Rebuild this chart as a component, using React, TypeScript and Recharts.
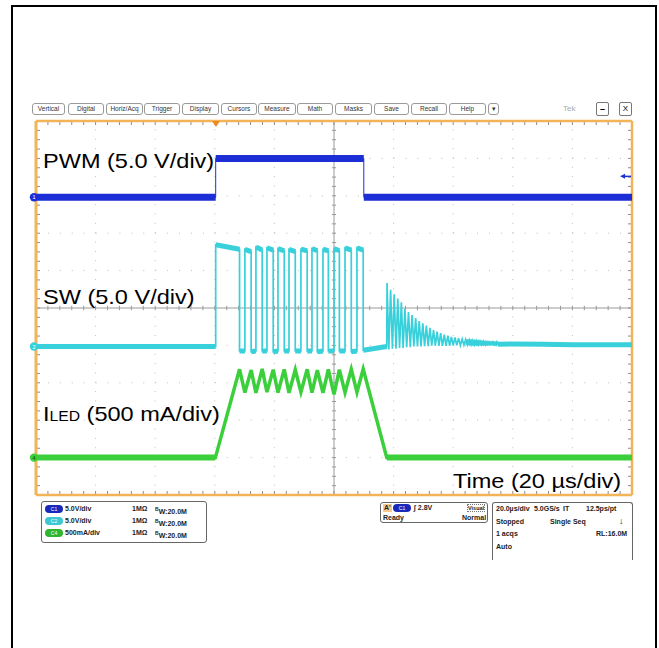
import React from "react";
import { ComposedChart, Line, XAxis, YAxis, ReferenceLine, ReferenceDot } from "recharts";

const ORANGE = "#f2b457";
const BLUE = "#1c2fd6";
const CYAN = "#38d0da";
const GREEN = "#3ccf3c";
const FONT = '"Liberation Sans", Arial, sans-serif';

// horizontal: 20 us/div, 10 div, trigger at 30 %
const T_DOMAIN: [number, number] = [-60, 140];
const T_MAJOR = [-40, -20, 0, 20, 60, 80, 100, 120];
const T_MINOR = Array.from({ length: 51 }, (_, i) => -60 + i * 4);
// vertical: 10 div
const DIV_MAJOR = [-4, -3, -2, -1, 1, 2, 3, 4];
const DIV_MINOR = Array.from({ length: 41 }, (_, i) => -5 + i * 0.25);

// channel scale (units/div) and ground position (div from centre)
const PWM_SCALE = 5, PWM_OFFSET = 2.96;
const SW_SCALE = 5, SW_OFFSET = -1.03;
const ILED_SCALE = 500, ILED_OFFSET = -4.0;
const TRIG_LEVEL = 2.8;

// [time us, volts]
const PWM: [number, number][] = [
  [-60, 0], [0.3, 0], [0.3, 5.2], [50, 5.2], [50, 0], [140, 0],
];

// [time us, volts]
const SW: [number, number][] = [
  [-60, 0], [0.3, 0], [0.3, 13.6], [8.3, 13.0], [8.3, -0.6],
  [10.1, -0.6], [10.1, 13.0], [12.2, 12.7], [12.2, -0.7],
  [13.8, -0.6], [13.8, 13.3], [15.9, 12.9], [15.9, -0.6],
  [17.5, -0.6], [17.5, 13.2], [19.6, 12.9], [19.6, -0.7],
  [21.2, -0.6], [21.2, 13.1], [23.3, 12.8], [23.3, -0.6],
  [24.9, -0.6], [24.9, 13.0], [27.0, 12.7], [27.0, -0.6],
  [28.9, -0.6], [28.9, 13.0], [31.0, 12.8], [31.0, -0.6],
  [32.6, -0.6], [32.6, 13.1], [34.4, 12.8], [34.4, -0.7],
  [36.3, -0.6], [36.3, 13.0], [38.1, 12.8], [38.1, -0.6],
  [40.0, -0.6], [40.0, 13.1], [41.8, 12.8], [41.8, -0.6],
  [43.7, -0.6], [43.7, 13.2], [45.8, 12.9], [45.8, -0.7],
  [47.7, -0.6], [47.7, 13.2], [49.8, 12.9], [49.8, -0.5],
  [57.7, 0.0],
  // ringing after turn-off
  [57.8, 8.5], [58.4, -0.4], [59.0, 7.6], [59.6, -0.3], [60.2, 7.0], [60.8, -0.3],
  [61.4, 6.4], [62.0, -0.2], [62.6, 5.9], [63.2, -0.2], [63.8, 5.0], [64.4, -0.1],
  [65.0, 4.6], [65.6, -0.1], [66.2, 4.2], [66.8, 0.0], [67.4, 3.8], [68.0, 0.0],
  [68.6, 3.4], [69.2, 0.0], [69.8, 3.1], [70.4, 0.05], [71.0, 2.8], [71.6, 0.05],
  [72.2, 2.5], [72.8, 0.1], [73.4, 2.2], [74.0, 0.1], [74.6, 2.0], [75.2, 0.1],
  [75.8, 1.8], [76.4, 0.1], [77.0, 1.6], [77.6, 0.1], [78.2, 1.45], [78.8, 0.1],
  [79.4, 1.3], [80.0, 0.15], [80.6, 1.2], [81.2, 0.15], [81.8, 1.1], [82.4, 0.15],
  [83.0, 1.0], [83.6, 0.2], [84.2, 0.95], [84.8, 0.2], [85.4, 0.9], [86.0, 0.2],
  [86.6, 0.85], [87.2, 0.2], [87.8, 0.8], [88.4, 0.2], [89.0, 0.75], [89.6, 0.2],
  [90.2, 0.7], [90.8, 0.2], [91.4, 0.65], [92.0, 0.25], [92.6, 0.6], [93.2, 0.25],
  [94.0, 0.55], [95.0, 0.3], [100, 0.35], [110, 0.3], [120, 0.25], [140, 0.25],
];

// [time us, mA]
const ILED: [number, number][] = [
  [-60, 0], [0.2, 0], [8.3, 1180], [10.1, 870], [12.2, 1170], [13.8, 865],
  [15.9, 1185], [17.5, 875], [19.6, 1175], [21.2, 870], [23.3, 1180], [24.9, 865],
  [27.0, 1175], [28.9, 875], [31.0, 1180], [32.6, 870], [34.4, 1170], [36.3, 865],
  [38.1, 1180], [40.0, 845], [41.8, 1175], [43.7, 870], [45.8, 1180], [47.7, 875],
  [49.8, 1185], [57.7, 0], [140, 0],
];

const MENU = ["Vertical", "Digital", "Horiz/Acq", "Trigger", "Display", "Cursors",
  "Measure", "Math", "Masks", "Save", "Recall", "Help", "▾"];
const MENU_X: [number, number][] = [[32, 65], [68, 104], [106, 143], [144, 180], [182, 219],
  [221, 257], [258, 296], [297, 333], [335, 372], [374, 409], [411, 447], [449, 486], [488, 499]];

const CHANNELS = [
  { tag: "C1", color: "#1a2ab8", scale: "5.0V/div" },
  { tag: "C2", color: "#3cc8d2", scale: "5.0V/div" },
  { tag: "C4", color: "#2fb52f", scale: "500mA/div" },
];

const toPts = (arr: [number, number][]) => arr.map(([t, v]) => ({ t, v }));

// flat parts of a trace get the thick noise band, edges stay thin
function band(arr: [number, number][], tol: number) {
  const out: { t: number; v: number | null }[] = [];
  for (let i = 1; i < arr.length; i++) {
    const [t0, v0] = arr[i - 1];
    const [t1, v1] = arr[i];
    if (t1 > t0 && Math.abs(v1 - v0) <= tol) {
      out.push({ t: t0, v: v0 }, { t: t1, v: v1 }, { t: t1, v: null });
    }
  }
  return out;
}

const dom = (scale: number, offset: number): [number, number] =>
  [(-5 - offset) * scale, (5 - offset) * scale];

const chMarker = (color: string, txt: string, txtColor: string) => (p: any) => (
  <g>
    <circle cx={p.cx - 2} cy={p.cy} r={4.2} fill={color} />
    <text x={p.cx - 2} y={p.cy + 2} fontSize={5.5} fontFamily={FONT} textAnchor="middle" fill={txtColor}>{txt}</text>
  </g>
);

const labelStyle: React.CSSProperties = {
  position: "absolute", fontFamily: FONT, fontSize: 21, lineHeight: "21px",
  whiteSpace: "nowrap", transform: "scaleX(1.12)", transformOrigin: "0 0", color: "#000",
};

const small: React.CSSProperties = {
  position: "absolute", fontFamily: FONT, fontSize: 7, fontWeight: "bold",
  lineHeight: "8px", whiteSpace: "nowrap", color: "#222",
};

function Pill({ x, y, color, tag }: { x: number; y: number; color: string; tag: string }) {
  return (
    <div style={{ position: "absolute", left: x, top: y, width: 18, height: 8, borderRadius: 4,
      background: color, color: "#fff", fontFamily: FONT, fontSize: 5, lineHeight: "8px",
      textAlign: "center" }}>{tag}</div>
  );
}

const TICK = "#8a8a8a";
const TX = 1.34; // 4 px in us
const TY = 0.107; // 4 px in div

export default function App() {
  return (
    <div style={{ position: "fixed", left: 0, top: 0, width: 659, height: 648, background: "#fff", overflow: "hidden" }}>
      <div style={{ position: "absolute", left: 11, top: 5, width: 642, height: 700, border: "2.5px solid #000" }} />

      {/* menu bar */}
      {MENU.map((m, i) => (
        <div key={m} style={{ position: "absolute", left: MENU_X[i][0], top: 103,
          width: MENU_X[i][1] - MENU_X[i][0], height: 12, border: "1px solid #9a9a9a",
          borderRadius: 3, boxSizing: "border-box", fontFamily: FONT, fontSize: 6.5,
          lineHeight: "10px", textAlign: "center", color: "#333", background: "#fff" }}>{m}</div>
      ))}
      <div style={{ ...small, left: 563, top: 105, fontWeight: "normal", fontSize: 8, color: "#aaa" }}>Tek</div>
      <div style={{ position: "absolute", left: 596, top: 102, width: 13, height: 14, border: "1px solid #777",
        borderRadius: 2, boxSizing: "border-box", fontFamily: FONT, fontSize: 9, fontWeight: "bold",
        textAlign: "center", lineHeight: "12px" }}>–</div>
      <div style={{ position: "absolute", left: 619, top: 102, width: 13, height: 14, border: "1px solid #777",
        borderRadius: 2, boxSizing: "border-box", fontFamily: FONT, fontSize: 8,
        textAlign: "center", lineHeight: "12px" }}>X</div>

      <div style={{ position: "absolute", left: 0, top: 0 }}>
        <ComposedChart width={659} height={648} margin={{ top: 121, right: 27, bottom: 153, left: 36 }}>
          <XAxis xAxisId="main" dataKey="t" type="number" domain={T_DOMAIN} allowDataOverflow hide />
          <YAxis yAxisId="div" type="number" domain={[-5, 5]} allowDataOverflow hide />
          <YAxis yAxisId="pwm" type="number" domain={dom(PWM_SCALE, PWM_OFFSET)} allowDataOverflow hide />
          <YAxis yAxisId="sw" type="number" domain={dom(SW_SCALE, SW_OFFSET)} allowDataOverflow hide />
          <YAxis yAxisId="iled" type="number" domain={dom(ILED_SCALE, ILED_OFFSET)} allowDataOverflow hide />

          {T_MAJOR.map((t) => (
            <ReferenceLine key={"gx" + t} xAxisId="main" yAxisId="div" x={t} stroke="#bdbdbd" strokeDasharray="1 8.35" />
          ))}
          {DIV_MAJOR.map((d) => (
            <ReferenceLine key={"gy" + d} xAxisId="main" yAxisId="div" y={d} stroke="#bdbdbd" strokeDasharray="1 10.92" />
          ))}
          <ReferenceLine xAxisId="main" yAxisId="div" x={40} stroke="#9a9a9a" />
          <ReferenceLine xAxisId="main" yAxisId="div" y={0} stroke="#9a9a9a" />
          {T_MINOR.map((t) => (
            <React.Fragment key={"tx" + t}>
              <ReferenceLine xAxisId="main" yAxisId="div" stroke="#9a9a9a"
                segment={[{ x: t, y: -0.06 }, { x: t, y: 0.06 }]} />
              <ReferenceLine xAxisId="main" yAxisId="div" stroke={TICK}
                segment={[{ x: t, y: 5 }, { x: t, y: 5 - TY }]} />
              <ReferenceLine xAxisId="main" yAxisId="div" stroke={TICK}
                segment={[{ x: t, y: -5 }, { x: t, y: -5 + TY }]} />
            </React.Fragment>
          ))}
          {DIV_MINOR.map((d) => (
            <React.Fragment key={"ty" + d}>
              <ReferenceLine xAxisId="main" yAxisId="div" stroke="#9a9a9a"
                segment={[{ x: 39.3, y: d }, { x: 40.7, y: d }]} />
              <ReferenceLine xAxisId="main" yAxisId="div" stroke={TICK}
                segment={[{ x: -60, y: d }, { x: -60 + TX, y: d }]} />
              <ReferenceLine xAxisId="main" yAxisId="div" stroke={TICK}
                segment={[{ x: 140, y: d }, { x: 140 - TX, y: d }]} />
            </React.Fragment>
          ))}
          <ReferenceLine xAxisId="main" yAxisId="div" x={-60} stroke={ORANGE} strokeWidth={3} />
          <ReferenceLine xAxisId="main" yAxisId="div" x={140} stroke={ORANGE} strokeWidth={2.5} />
          <ReferenceLine xAxisId="main" yAxisId="div" y={5} stroke={ORANGE} strokeWidth={2.5} />
          <ReferenceLine xAxisId="main" yAxisId="div" y={-5} stroke={ORANGE} strokeWidth={2.5} />

          <Line xAxisId="main" yAxisId="pwm" data={toPts(PWM)} dataKey="v" stroke={BLUE} strokeWidth={1}
            dot={false} isAnimationActive={false} />
          <Line xAxisId="main" yAxisId="pwm" data={band(PWM, 0.5)} dataKey="v" stroke={BLUE} strokeWidth={7}
            dot={false} isAnimationActive={false} />
          <Line xAxisId="main" yAxisId="sw" data={toPts(SW)} dataKey="v" stroke={CYAN} strokeWidth={1.7}
            dot={false} isAnimationActive={false} />
          <Line xAxisId="main" yAxisId="sw" data={band(SW, 0.7)} dataKey="v" stroke={CYAN} strokeWidth={5}
            dot={false} isAnimationActive={false} />
          <Line xAxisId="main" yAxisId="iled" data={toPts(ILED)} dataKey="v" stroke={GREEN} strokeWidth={3.5}
            dot={false} isAnimationActive={false} />
          <Line xAxisId="main" yAxisId="iled" data={band(ILED, 20)} dataKey="v" stroke={GREEN} strokeWidth={6}
            dot={false} isAnimationActive={false} />

          <ReferenceDot xAxisId="main" yAxisId="pwm" x={-60} y={0} shape={chMarker(BLUE, "1", "#fff")} />
          <ReferenceDot xAxisId="main" yAxisId="sw" x={-60} y={0} shape={chMarker(CYAN, "2", "#fff")} />
          <ReferenceDot xAxisId="main" yAxisId="iled" x={-60} y={0} shape={chMarker(GREEN, "4", "#114411")} />
          <ReferenceDot xAxisId="main" yAxisId="pwm" x={136} y={TRIG_LEVEL}
            shape={(p: any) => (
              <g>
                <path d={`M${p.cx},${p.cy} l5,-2.5 v5 z`} fill={BLUE} />
                <line x1={p.cx + 4} y1={p.cy} x2={p.cx + 11} y2={p.cy} stroke={BLUE} strokeWidth={1.5} />
              </g>
            )} />
          <ReferenceDot xAxisId="main" yAxisId="div" x={0.4} y={5}
            shape={(p: any) => <path d={`M${p.cx - 4},${p.cy} h8 l-4,6 z`} fill="#f08a1c" />} />
        </ComposedChart>
      </div>

      {/* channel labels */}
      <div style={{ ...labelStyle, left: 42.5, top: 150 }}>PWM (5.0 V/div)</div>
      <div style={{ ...labelStyle, left: 42.5, top: 286 }}>SW (5.0 V/div)</div>
      <div style={{ ...labelStyle, left: 42.5, top: 403 }}>
        I<span style={{ fontSize: 14 }}>LED</span> (500 mA/div)
      </div>
      <div style={{ ...labelStyle, left: 453, top: 470 }}>Time (20 µs/div)</div>

      {/* channel readouts */}
      <div style={{ position: "absolute", left: 41, top: 501, width: 166, height: 42,
        border: "1px solid #666", borderRadius: 3, boxSizing: "border-box" }} />
      {CHANNELS.map((c, i) => (
        <React.Fragment key={c.tag}>
          <Pill x={45} y={505 + i * 12} color={c.color} tag={c.tag} />
          <div style={{ ...small, left: 65, top: 505 + i * 12 }}>{c.scale}</div>
          <div style={{ ...small, left: 132, top: 505 + i * 12 }}>1MΩ</div>
          <div style={{ ...small, left: 155, top: 505 + i * 12 }}>
            <sup style={{ fontSize: 5 }}>B</sup>W:20.0M
          </div>
        </React.Fragment>
      ))}

      {/* trigger readout */}
      <div style={{ position: "absolute", left: 380, top: 502, width: 108, height: 21,
        border: "1px solid #666", borderRadius: 3, boxSizing: "border-box" }} />
      <div style={{ ...small, left: 383, top: 504, background: "#f4c98a", padding: "0 1px" }}>A'</div>
      <Pill x={393} y={504} color="#1a2ab8" tag="C1" />
      <div style={{ ...small, left: 414, top: 504 }}>∫ 2.8V</div>
      <div style={{ ...small, left: 467, top: 504, fontSize: 5.5, border: "1px dotted #777", lineHeight: "6px" }}>Visual</div>
      <div style={{ ...small, left: 383, top: 514 }}>Ready</div>
      <div style={{ ...small, left: 462, top: 514 }}>Normal</div>

      {/* acquisition readout */}
      <div style={{ position: "absolute", left: 492, top: 502, width: 141, height: 58,
        borderLeft: "1px solid #666", borderTop: "1px solid #666", borderRight: "1px solid #666",
        borderRadius: "3px 3px 0 0", boxSizing: "border-box" }} />
      <div style={{ ...small, left: 496, top: 505 }}>20.0µs/div</div>
      <div style={{ ...small, left: 534, top: 505 }}>5.0GS/s</div>
      <div style={{ ...small, left: 563, top: 505 }}>IT</div>
      <div style={{ ...small, left: 586, top: 505 }}>12.5ps/pt</div>
      <div style={{ ...small, left: 496, top: 518 }}>Stopped</div>
      <div style={{ ...small, left: 550, top: 518 }}>Single Seq</div>
      <div style={{ ...small, left: 619, top: 517, fontSize: 9 }}>↓</div>
      <div style={{ ...small, left: 496, top: 530 }}>1 acqs</div>
      <div style={{ ...small, left: 596, top: 530 }}>RL:16.0M</div>
      <div style={{ ...small, left: 496, top: 543 }}>Auto</div>
    </div>
  );
}
